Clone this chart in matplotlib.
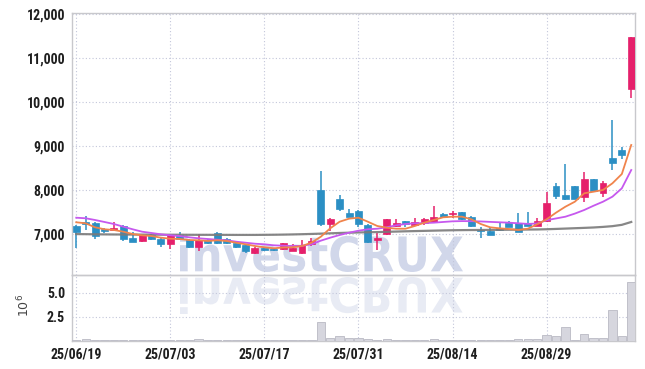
import matplotlib
matplotlib.use("Agg")
import matplotlib.pyplot as plt
import matplotlib.ticker as mticker
from matplotlib import font_manager as fm
from matplotlib.textpath import TextPath
from matplotlib.patches import PathPatch
from matplotlib.font_manager import FontProperties
from matplotlib.transforms import Affine2D

# trading days 25/06/19 .. 25/09/11
dates = ["25/06/19", "25/06/20", "25/06/23", "25/06/24", "25/06/25", "25/06/26", "25/06/27", "25/06/30",
         "25/07/01", "25/07/02", "25/07/03", "25/07/04", "25/07/07", "25/07/08", "25/07/09", "25/07/10",
         "25/07/11", "25/07/14", "25/07/15", "25/07/16", "25/07/17", "25/07/18", "25/07/21", "25/07/22",
         "25/07/23", "25/07/24", "25/07/25", "25/07/28", "25/07/29", "25/07/30", "25/07/31", "25/08/01",
         "25/08/04", "25/08/05", "25/08/06", "25/08/07", "25/08/08", "25/08/11", "25/08/12", "25/08/13",
         "25/08/14", "25/08/18", "25/08/19", "25/08/20", "25/08/21", "25/08/22", "25/08/25", "25/08/26",
         "25/08/27", "25/08/28", "25/08/29", "25/09/01", "25/09/02", "25/09/03", "25/09/04", "25/09/05",
         "25/09/08", "25/09/09", "25/09/10", "25/09/11"]

opens = [7190, 7280, 7260, 7110, 7105, 7190, 6920, 6855, 6990, 6900,
         6790, 6990, 6870, 6705, 6865, 7030, 6890, 6795, 6750, 6585,
         6680, 6660, 6660, 6620, 6570, 6790, 8000, 7240, 7800, 7480,
         7535, 7200, 6865, 7000, 7190, 7300, 7205, 7250, 7290, 7460,
         7450, 7500, 7385, 7100, 7080, 7135, 7250, 7250, 7265, 7195,
         7300, 8105, 7890, 8095, 7840, 8250, 7930, 8740, 8915, 10300]
highs = [7200, 7410, 7270, 7140, 7290, 7200, 7060, 6990, 7000, 6910,
         6990, 7060, 6890, 7005, 6900, 7060, 6910, 6810, 6760, 6720,
         6700, 6680, 6810, 6780, 6870, 6920, 8440, 7360, 7890, 7570,
         7550, 7240, 7040, 7350, 7340, 7310, 7360, 7380, 7640, 7480,
         7540, 7510, 7420, 7170, 7170, 7280, 7300, 7490, 7505, 7380,
         7960, 8160, 8590, 8100, 8420, 8250, 8220, 9600, 8990, 11480]
lows = [6680, 7100, 6900, 7030, 7090, 6850, 6815, 6820, 6880, 6700,
        6675, 6870, 6690, 6630, 6780, 6790, 6790, 6680, 6580, 6550,
        6620, 6630, 6650, 6610, 6560, 6740, 7190, 7075, 7520, 7390,
        7160, 6810, 6645, 6990, 7160, 7160, 7190, 7220, 7280, 7360,
        7360, 7320, 7160, 6910, 6990, 7070, 7160, 7050, 7180, 7180,
        7290, 7795, 7790, 7800, 7740, 7980, 7840, 8460, 8705, 10090]
closes = [7060, 7230, 6960, 7080, 7140, 6895, 6830, 6975, 6895, 6790,
          6980, 6890, 6700, 6870, 6795, 6810, 6810, 6700, 6630, 6680,
          6640, 6640, 6795, 6680, 6755, 6845, 7240, 7350, 7585, 7400,
          7240, 6820, 6920, 7340, 7255, 7235, 7270, 7345, 7390, 7395,
          7490, 7340, 7195, 7070, 6995, 7090, 7175, 7060, 7195, 7300,
          7710, 7880, 7810, 7810, 8250, 7990, 8165, 8615, 8810, 11480]
# volume, millions of shares
volumes = [0.05, 0.2, 0.05, 0.05, 0.05, 0.05, 0.05, 0.05, 0.05, 0.05,
           0.05, 0.05, 0.05, 0.2, 0.05, 0.05, 0.05, 0.05, 0.05, 0.05,
           0.05, 0.05, 0.05, 0.05, 0.05, 0.05, 1.9, 0.27, 0.5, 0.23,
           0.3, 0.2, 0.05, 0.2, 0.05, 0.05, 0.05, 0.05, 0.2, 0.05,
           0.05, 0.05, 0.05, 0.05, 0.05, 0.05, 0.12, 0.15, 0.15, 0.2,
           0.6, 0.5, 1.4, 0.12, 0.68, 0.33, 0.33, 3.2, 0.5, 6.15]
# moving averages as drawn
ma_short = [7273, 7250, 7159, 7114, 7098, 7059, 7007, 6977, 6961, 6923,
            6900, 6893, 6870, 6864, 6848, 6864, 6848, 6809, 6773, 6734,
            6705, 6682, 6700, 6705, 6734, 6809, 6945, 7136, 7286, 7355,
            7377, 7286, 7189, 7150, 7127, 7127, 7189, 7264, 7325, 7386,
            7400, 7400, 7341, 7234, 7159, 7136, 7120, 7098, 7127, 7227,
            7340, 7491, 7627, 7740, 7932, 7968, 8007, 8159, 8370, 9030]
ma_mid = [7377, 7364, 7325, 7280, 7234, 7173, 7114, 7059, 7030, 7000,
          6977, 6961, 6932, 6909, 6893, 6877, 6864, 6832, 6809, 6786,
          6773, 6750, 6740, 6734, 6740, 6773, 6855, 6923, 6984, 7036,
          7082, 7114, 7127, 7159, 7205, 7234, 7250, 7255, 7264, 7280,
          7295, 7300, 7298, 7292, 7282, 7273, 7264, 7250, 7236, 7245,
          7320, 7360, 7400, 7470, 7552, 7650, 7741, 7855, 8045, 8461]
ma_long = [7005, 7003, 7000, 6998, 6996, 6995, 6994, 6993, 6992, 6991,
           6990, 6990, 6989, 6988, 6988, 6987, 6987, 6986, 6986, 6986,
           6988, 6990, 6993, 6997, 7002, 7008, 7015, 7022, 7030, 7036,
           7042, 7046, 7050, 7056, 7062, 7068, 7073, 7078, 7083, 7088,
           7092, 7095, 7097, 7098, 7100, 7102, 7104, 7106, 7108, 7110,
           7115, 7122, 7130, 7138, 7146, 7155, 7168, 7185, 7215, 7280]
price_ticks = [7000, 8000, 9000, 10000, 11000, 12000]
volume_ticks = [2.5, 5.0]

UP, DOWN = "#e5206b", "#2b8fc4"
GRID = dict(color="#c3c6da", linestyle=(0, (1, 2)), linewidth=0.8)
SPINE = "#c8c8cc"


def narrow_bold():
    """Narrowest bold face on the box — the reference ticks use a condensed font."""
    wanted = ["LiberationSansNarrow-Bold.", "NotoSans-CondensedBold", "NotoSans-ExtraCondensedBold",
              "RobotoCondensed-Bold", "OpenSans_Condensed-Bold", "OpenSansCondensed-Bold",
              "DejaVuSansCondensed-Bold.", "Roboto-Bold."]
    files = [f.fname for f in fm.fontManager.ttflist]
    for key in wanted:
        for fn in files:
            if key in fn.split("/")[-1]:
                return FontProperties(fname=fn, size=10)
    return FontProperties(family="DejaVu Sans", weight="bold", size=9.5)


TICKFONT = narrow_bold()

W, H = 645, 369
fig = plt.figure(figsize=(W / 100, H / 100), dpi=100, facecolor="white")
ax = fig.add_axes([72 / W, 1 - 275 / H, 563 / W, (275 - 12.7) / H], facecolor="none")
axv = fig.add_axes([72 / W, 1 - 340.7 / H, 563 / W, 65.7 / H], facecolor="none", sharex=ax)


def watermark(text, x0, x1, ytop, ybot, color, flip=False):
    tp = TextPath((0, 0), text, size=100, prop=FontProperties(family="DejaVu Sans", weight="bold"))
    ext = tp.get_extents()
    sx = (x1 - x0) / ext.width / W
    sy = (ybot - ytop) / ext.height / H
    tr = Affine2D().translate(-ext.x0, -ext.y0)
    if flip:
        tr = tr.scale(sx, -sy).translate(x0 / W, 1 - ytop / H)
    else:
        tr = tr.scale(sx, sy).translate(x0 / W, 1 - ybot / H)
    fig.add_artist(PathPatch(tp, transform=tr + fig.transFigure, facecolor=color, lw=0, zorder=-1))


watermark("investCRUX", 180, 463, 235, 272, "#d1d7ea")
watermark("investCRUX", 180, 463, 277, 314, "#e8ebf4", flip=True)

xs = list(range(len(dates)))
cols = [UP if c >= o else DOWN for o, c in zip(opens, closes)]
bottoms = [min(o, c) for o, c in zip(opens, closes)]
heights = [max(abs(c - o), 15) for o, c in zip(opens, closes)]

ax.vlines(xs, lows, highs, colors=cols, linewidth=1.1, zorder=2)
ax.bar(xs, heights, bottom=bottoms, width=0.74, color=cols, edgecolor=cols, linewidth=0.5, zorder=3)
ax.plot(xs, ma_long, color="#7a7a7a", lw=1.6, alpha=0.9, zorder=4)
ax.plot(xs, ma_mid, color="#c658ee", lw=1.3, zorder=5)
ax.plot(xs, ma_short, color="#f0844c", lw=1.3, zorder=6)

axv.bar(xs, volumes, width=0.88, color="#d6d6de", edgecolor="#b9b9c4", linewidth=0.6, zorder=3)

ax.set_xlim(-0.45, 59.4)
ax.set_ylim(6075, 12036)
axv.set_ylim(0, 6.84)

ax.set_yticks(price_ticks)
ax.yaxis.set_major_formatter(mticker.FuncFormatter(lambda v, _p: f"{v:,.0f}"))
axv.set_yticks(volume_ticks)
axv.yaxis.set_major_formatter(mticker.FormatStrFormatter("%.1f"))
axv.set_xticks(xs[::10])
axv.set_xticklabels(dates[::10])
ax.tick_params(axis="x", labelbottom=False)

for a in (ax, axv):
    a.grid(True, **GRID)
    a.set_axisbelow(True)
    a.tick_params(length=0, pad=5, labelcolor="#1e1e1e")
    for lbl in a.get_yticklabels() + a.get_xticklabels():
        lbl.set_fontproperties(TICKFONT)
    for s in a.spines.values():
        s.set_color(SPINE)
        s.set_linewidth(1.0)

axv.set_ylabel(r"$10^{6}$", fontsize=9, color="#444444", family="DejaVu Sans")
axv.yaxis.set_label_coords(-0.07, 0.54)

fig.savefig("out.png", dpi=100, facecolor="white")
